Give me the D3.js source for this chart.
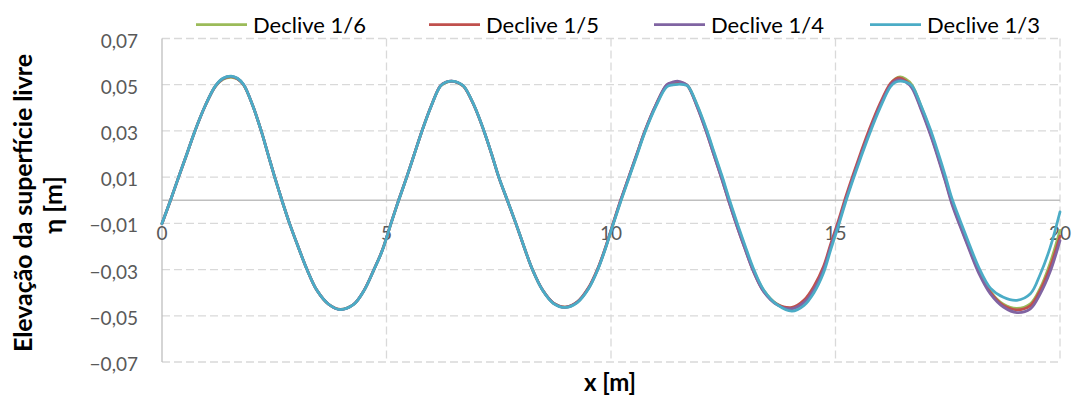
<!DOCTYPE html>
<html><head><meta charset="utf-8">
<script src="https://cdn.jsdelivr.net/npm/d3@7"></script>
<style>
html,body{margin:0;padding:0;background:#fff;}
svg{display:block;font-family:Lato,"Noto Sans",sans-serif;}
</style></head>
<body><svg id="chart" width="1075" height="396"></svg>
<script>
// ---------- DATA ----------
const seriesNames = ["Declive 1/6", "Declive 1/5", "Declive 1/4", "Declive 1/3"];
const xTicks = [0, 5, 10, 15, 20];
const yTicks = [0.07, 0.05, 0.03, 0.01, -0.01, -0.03, -0.05, -0.07];

const xValues = [
 0.00,0.19,0.37,0.55,0.73,0.96,1.19,1.36,1.54,1.68,1.82,2.02,2.21,2.36,2.51,2.67,2.84,3.03,3.23,3.45,3.71,3.97,4.27,4.50,4.72,4.90,5.10,
 5.27,5.45,5.62,5.79,6.00,6.20,6.32,6.45,6.58,6.72,6.95,7.17,7.34,7.50,7.69,7.88,8.06,8.25,8.48,8.72,8.99,9.25,9.50,9.70,9.87,10.05,
 10.22,10.40,10.58,10.76,11.00,11.24,11.37,11.50,11.62,11.71,11.92,12.13,12.30,12.47,12.63,12.80,12.98,13.17,13.40,13.70,14.03,14.30,14.52,14.73,14.90,15.07,
 15.22,15.39,15.57,15.76,15.99,16.22,16.33,16.44,16.56,16.70,16.90,17.11,17.28,17.44,17.59,17.78,17.98,18.19,18.45,18.74,19.04,19.34,19.56,19.78,20.00
];

const declive16 = [
 -0.0101,0.0000,0.0100,0.0198,0.0298,0.0408,0.0493,0.0524,0.0532,0.0524,0.0498,0.0410,0.0300,0.0200,0.0100,0.0000,-0.0100,-0.0200,-0.0300,-0.0390,-0.0450,-0.0472,-0.0450,-0.0390,-0.0300,-0.0220,-0.0100,
 0.0000,0.0100,0.0200,0.0300,0.0410,0.0494,0.0509,0.0514,0.0509,0.0492,0.0410,0.0300,0.0200,0.0100,0.0000,-0.0100,-0.0200,-0.0300,-0.0390,-0.0445,-0.0462,-0.0440,-0.0380,-0.0300,-0.0210,-0.0100,
 0.0000,0.0100,0.0200,0.0300,0.0410,0.0495,0.0505,0.0509,0.0504,0.0496,0.0410,0.0300,0.0200,0.0100,0.0000,-0.0100,-0.0200,-0.0300,-0.0390,-0.0450,-0.0467,-0.0440,-0.0385,-0.0300,-0.0195,-0.0095,
 0.0000,0.0100,0.0200,0.0300,0.0410,0.0500,0.0525,0.0534,0.0525,0.0500,0.0410,0.0300,0.0200,0.0100,0.0000,-0.0100,-0.0200,-0.0300,-0.0395,-0.0450,-0.0468,-0.0448,-0.0380,-0.0272,-0.0130
];
const declive15 = [
 -0.0101,0.0000,0.0100,0.0198,0.0298,0.0408,0.0494,0.0526,0.0535,0.0526,0.0499,0.0410,0.0300,0.0200,0.0100,0.0000,-0.0100,-0.0200,-0.0300,-0.0390,-0.0450,-0.0472,-0.0450,-0.0390,-0.0300,-0.0220,-0.0100,
 0.0000,0.0100,0.0200,0.0300,0.0410,0.0495,0.0511,0.0516,0.0510,0.0493,0.0410,0.0300,0.0200,0.0100,0.0000,-0.0100,-0.0200,-0.0300,-0.0390,-0.0445,-0.0462,-0.0440,-0.0378,-0.0298,-0.0208,-0.0098,
 0.0003,0.0103,0.0203,0.0303,0.0413,0.0498,0.0508,0.0512,0.0505,0.0494,0.0405,0.0293,0.0192,0.0092,-0.0008,-0.0108,-0.0207,-0.0306,-0.0394,-0.0450,-0.0464,-0.0432,-0.0372,-0.0288,-0.0185,-0.0085,
 0.0010,0.0110,0.0210,0.0310,0.0418,0.0505,0.0524,0.0529,0.0518,0.0492,0.0401,0.0291,0.0191,0.0091,-0.0009,-0.0109,-0.0209,-0.0308,-0.0398,-0.0455,-0.0474,-0.0456,-0.0390,-0.0290,-0.0155
];
const declive14 = [
 -0.0101,0.0000,0.0100,0.0198,0.0298,0.0408,0.0494,0.0527,0.0536,0.0527,0.0500,0.0410,0.0300,0.0200,0.0100,0.0000,-0.0100,-0.0200,-0.0300,-0.0390,-0.0450,-0.0473,-0.0450,-0.0390,-0.0300,-0.0220,-0.0100,
 0.0000,0.0100,0.0200,0.0300,0.0410,0.0495,0.0511,0.0516,0.0510,0.0493,0.0410,0.0300,0.0200,0.0100,0.0000,-0.0100,-0.0200,-0.0300,-0.0390,-0.0446,-0.0463,-0.0441,-0.0381,-0.0301,-0.0211,-0.0101,
 0.0002,0.0102,0.0202,0.0302,0.0413,0.0500,0.0511,0.0515,0.0507,0.0496,0.0404,0.0292,0.0191,0.0091,-0.0009,-0.0109,-0.0208,-0.0307,-0.0396,-0.0453,-0.0470,-0.0442,-0.0387,-0.0302,-0.0197,-0.0097,
 -0.0003,0.0097,0.0197,0.0297,0.0407,0.0496,0.0516,0.0521,0.0512,0.0486,0.0395,0.0285,0.0185,0.0085,-0.0015,-0.0115,-0.0215,-0.0315,-0.0405,-0.0462,-0.0486,-0.0470,-0.0405,-0.0310,-0.0175
];
const declive13 = [
 -0.0101,0.0000,0.0100,0.0198,0.0298,0.0408,0.0495,0.0528,0.0537,0.0528,0.0500,0.0410,0.0300,0.0200,0.0100,0.0000,-0.0100,-0.0200,-0.0300,-0.0390,-0.0450,-0.0473,-0.0451,-0.0391,-0.0301,-0.0221,-0.0101,
 -0.0001,0.0099,0.0199,0.0299,0.0409,0.0494,0.0511,0.0516,0.0511,0.0494,0.0411,0.0301,0.0201,0.0101,0.0001,-0.0099,-0.0199,-0.0300,-0.0391,-0.0447,-0.0464,-0.0443,-0.0383,-0.0303,-0.0213,-0.0103,
 -0.0004,0.0096,0.0196,0.0296,0.0406,0.0490,0.0499,0.0502,0.0500,0.0494,0.0412,0.0305,0.0206,0.0107,0.0007,-0.0093,-0.0193,-0.0294,-0.0388,-0.0452,-0.0480,-0.0455,-0.0400,-0.0316,-0.0210,-0.0108,
 -0.0012,0.0088,0.0188,0.0288,0.0398,0.0490,0.0510,0.0516,0.0512,0.0496,0.0412,0.0308,0.0209,0.0110,0.0010,-0.0090,-0.0190,-0.0290,-0.0380,-0.0420,-0.0433,-0.0405,-0.0320,-0.0205,-0.0050
];
const seriesValues = [declive16, declive15, declive14, declive13];
const seriesColors = ["#9BBB59", "#C0504D", "#8064A2", "#4BACC6"];

// ---------- LAYOUT ----------
const plot = {left: 162, right: 1060, top: 38.5, bottom: 362};
const legendX = [196, 429, 654, 870];

const svg = d3.select("#chart");
const x = d3.scaleLinear().domain([0, 20]).range([plot.left, plot.right]);
const y = d3.scaleLinear().domain([-0.07, 0.07]).range([plot.bottom, plot.top]);

const fmt = v => d3.format(".2f")(v).replace(".", ",");

// horizontal gridlines
svg.append("g").selectAll("line").data(yTicks).join("line")
  .attr("x1", plot.left).attr("x2", plot.right)
  .attr("y1", d => y(d)).attr("y2", d => y(d))
  .attr("stroke", "#D9D9D9").attr("stroke-width", 1.3).attr("stroke-dasharray", "8,4");
// vertical gridlines
svg.append("g").selectAll("line").data(xTicks.filter(d => d > 0)).join("line")
  .attr("x1", d => x(d)).attr("x2", d => x(d))
  .attr("y1", plot.top).attr("y2", plot.bottom)
  .attr("stroke", "#D9D9D9").attr("stroke-width", 1.3).attr("stroke-dasharray", "8,4");

// y axis line
svg.append("line").attr("x1", x(0)).attr("x2", x(0)).attr("y1", plot.top).attr("y2", plot.bottom)
  .attr("stroke", "#BFBFBF").attr("stroke-width", 1.3);
// x axis line at zero
svg.append("line").attr("x1", plot.left).attr("x2", plot.right).attr("y1", y(0)).attr("y2", y(0))
  .attr("stroke", "#BFBFBF").attr("stroke-width", 1.3);

// y tick labels
svg.append("g").selectAll("text").data(yTicks).join("text")
  .attr("x", 138).attr("y", d => y(d) + 1.5)
  .attr("text-anchor", "end").attr("dominant-baseline", "central")
  .attr("font-size", 19).attr("fill", "#595959").text(d => fmt(d));
// x tick labels
svg.append("g").selectAll("text").data(xTicks).join("text")
  .attr("x", d => x(d)).attr("y", 240)
  .attr("text-anchor", "middle")
  .attr("font-size", 19).attr("fill", "#595959").text(d => d);

// lines
const line = d3.line().x(d => x(d[0])).y(d => y(d[1])).curve(d3.curveCatmullRom.alpha(0.5));
svg.append("g").selectAll("path").data(seriesValues).join("path")
  .attr("d", vals => line(xValues.map((xv, i) => [xv, vals[i]])))
  .attr("fill", "none").attr("stroke", (d, i) => seriesColors[i])
  .attr("stroke-width", 2.75).attr("stroke-linejoin", "round").attr("stroke-linecap", "round");

// legend
const lg = svg.append("g").selectAll("g").data(seriesNames).join("g")
  .attr("transform", (d, i) => `translate(${legendX[i]},24.5)`);
lg.append("line").attr("x1", 0).attr("x2", 51).attr("y1", 0).attr("y2", 0)
  .attr("stroke", (d, i) => seriesColors[i]).attr("stroke-width", 2.75);
lg.append("text").attr("x", 57).attr("y", 0).attr("dominant-baseline", "central")
  .attr("font-size", 22).attr("fill", "#000").text(d => d);

// axis titles
svg.append("text").attr("transform", "translate(32,203) rotate(-90)")
  .attr("text-anchor", "middle").attr("font-weight", "bold").attr("font-size", 25)
  .attr("textLength", 298).attr("lengthAdjust", "spacing")
  .attr("fill", "#000").text("Elevação da superfície livre");
svg.append("text").attr("transform", "translate(62,205) rotate(-90)")
  .attr("text-anchor", "middle").attr("font-weight", "bold").attr("font-size", 25)
  .attr("fill", "#000").text("η [m]");
svg.append("text").attr("x", 610).attr("y", 391)
  .attr("text-anchor", "middle").attr("font-weight", "bold").attr("font-size", 24)
  .attr("fill", "#000").text("x [m]");
</script></body></html>
